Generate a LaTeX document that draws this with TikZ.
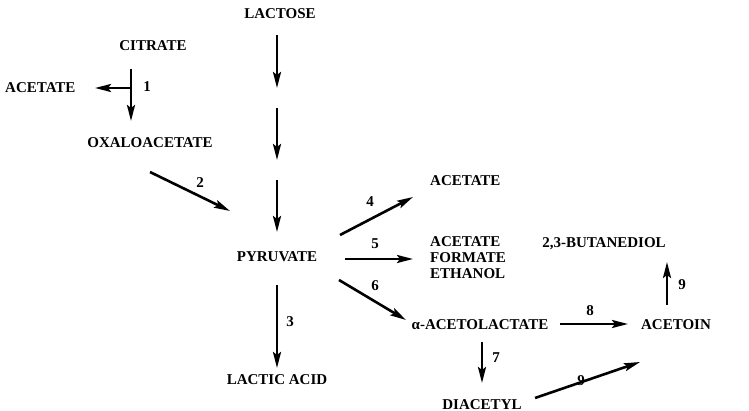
\documentclass[tikz,border=0pt]{standalone}
\usepackage{fontspec}
\setmainfont{Liberation Serif}
\usetikzlibrary{arrows.meta}
\begin{document}
\begin{tikzpicture}[x=1pt,y=-1pt,
  t/.style={font=\bfseries\fontsize{15}{16}\selectfont, inner sep=0pt},
  a/.style={line width=2.6pt,-{Stealth[length=16pt,width=8pt,inset=3pt]}},
  c/.style={inner sep=0pt}]
\useasboundingbox (0,0) rectangle (749,411);
\node[t] (lac) at (280,14) {LACTOSE};
\node[t] (cit) at (153,46) {CITRATE};
\node[t,anchor=west] (ac1) at (5,88) {ACETATE};
\node[t] (oxa) at (150,143) {OXALOACETATE};
\node[t] (pyr) at (277,257) {PYRUVATE};
\node[t] (lacacid) at (277,380) {LACTIC ACID};
\node[t,anchor=west] (ac2) at (430,181) {ACETATE};
\node[t,anchor=west,align=left] (afe) at (430,258) {ACETATE\\FORMATE\\ETHANOL};
\node[t] (but) at (604,244) {2,3-BUTANEDIOL};
\node[t] (aal) at (480,325) {α-ACETOLACTATE};
\node[t] (act) at (676,325) {ACETOIN};
\node[t] (dia) at (482,405) {DIACETYL};
\foreach \n/\x/\y in {p1/277/35,p2/277/88,p3/277/108,p4/277/160,p5/277/180,p6/277/232,
  c1/131/69,c2/131/121,c3/131/88,c4/95/88,o1/150/172,o2/230/211,
  f1/340/235,f2/413/197,g1/345/259,g2/413/259,h1/339/280,h2/406/320,
  l1/277/285,l2/277/368,d1/482/342,d2/482/383,e1/560/324,e2/628/324,
  k1/535/398,k2/640/362,m1/667/305,m2/667/262}
  \coordinate (\n) at (\x,\y);
\draw[a] (p1)--(p2); \draw[a] (p3)--(p4); \draw[a] (p5)--(p6);
\draw[a] (c1)--(c2); \draw[a] (c3)--(c4);
\draw[a] (o1)--(o2); \draw[a] (f1)--(f2); \draw[a] (g1)--(g2);
\draw[a] (h1)--(h2); \draw[a] (l1)--(l2); \draw[a] (d1)--(d2);
\draw[a] (e1)--(e2); \draw[a] (k1)--(k2); \draw[a] (m1)--(m2);
\node[t] (n1) at (147,87) {1};
\node[t] (n2) at (200,183) {2};
\node[t] (n3) at (290,322) {3};
\node[t] (n4) at (370,202) {4};
\node[t] (n5) at (375,244) {5};
\node[t] (n6) at (375,286) {6};
\node[t] (n7) at (496,358) {7};
\node[t] (n8) at (590,311) {8};
\node[t] (n9) at (581,381) {9};
\node[t] (n9b) at (682,285) {9};
\end{tikzpicture}
\end{document}
